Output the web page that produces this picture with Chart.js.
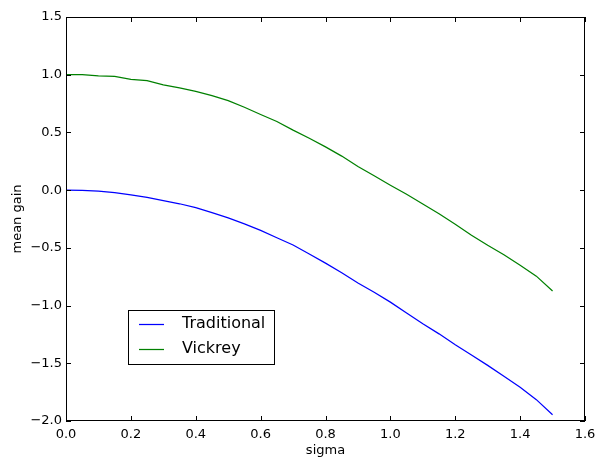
<!DOCTYPE html>
<html>
<head>
<meta charset="utf-8">
<script src="https://cdn.jsdelivr.net/npm/chart.js@4"></script>
<style>
  html, body { margin: 0; padding: 0; background: #fff; }
  #wrap { width: 598px; height: 458px; }
</style>
</head>
<body>
<div id="wrap"><canvas id="chart" width="598" height="458"></canvas></div>
<script>
// sigma values (x) and mean gain per mechanism
const sigma = [0.00, 0.05, 0.10, 0.15, 0.20, 0.25, 0.30, 0.35, 0.40, 0.45,
               0.50, 0.55, 0.60, 0.65, 0.70, 0.75, 0.80, 0.85, 0.90, 0.95,
               1.00, 1.05, 1.10, 1.15, 1.20, 1.25, 1.30, 1.35, 1.40, 1.45, 1.50];
const traditional = [0.000, -0.002, -0.009, -0.022, -0.040, -0.062, -0.090, -0.118, -0.152, -0.195,
                     -0.240, -0.292, -0.348, -0.412, -0.475, -0.553, -0.632, -0.715, -0.805, -0.885,
                     -0.970, -1.065, -1.158, -1.245, -1.340, -1.428, -1.518, -1.612, -1.708, -1.815, -1.946];
const vickrey = [1.000, 1.000, 0.990, 0.985, 0.960, 0.948, 0.912, 0.885, 0.855, 0.818,
                 0.775, 0.718, 0.655, 0.595, 0.520, 0.450, 0.375, 0.295, 0.205, 0.125,
                 0.043, -0.035, -0.120, -0.205, -0.295, -0.390, -0.478, -0.560, -0.650, -0.745, -0.874];
const xTicks = [0.0, 0.2, 0.4, 0.6, 0.8, 1.0, 1.2, 1.4, 1.6];
const yTicks = [-2.0, -1.5, -1.0, -0.5, 0.0, 0.5, 1.0, 1.5];

const fontFamily = '"DejaVu Sans", sans-serif';

function toPoints(ys) {
    return sigma.map((x, i) => ({ x: x, y: ys[i] }));
}

function fmt(v) {
    const s = Math.abs(v).toFixed(1);
    return v < -1e-9 ? '\u2212' + s : s;
}

// frame + inward ticks, matplotlib style
const framePlugin = {
    id: 'frame',
    afterDraw(chart) {
        const ctx = chart.ctx;
        const a = chart.chartArea;
        const xs = chart.scales.x, ys = chart.scales.y;
        const len = 5;
        ctx.save();
        ctx.strokeStyle = '#000';
        ctx.lineWidth = 1;
        ctx.strokeRect(a.left + 0.5, a.top + 0.5, a.right - a.left - 1, a.bottom - a.top - 1);
        ctx.beginPath();
        xTicks.forEach(t => {
            const px = Math.round(xs.getPixelForValue(t)) + 0.5;
            ctx.moveTo(px, a.bottom); ctx.lineTo(px, a.bottom - len);
            ctx.moveTo(px, a.top); ctx.lineTo(px, a.top + len);
        });
        yTicks.forEach(t => {
            const py = Math.round(ys.getPixelForValue(t)) + 0.5;
            ctx.moveTo(a.left, py); ctx.lineTo(a.left + len, py);
            ctx.moveTo(a.right, py); ctx.lineTo(a.right - len, py);
        });
        ctx.stroke();
        ctx.restore();
    }
};

// legend box inside the axes
const legendPlugin = {
    id: 'boxLegend',
    afterDraw(chart) {
        const ctx = chart.ctx;
        const bx = 128, by = 310, bw = 146, bh = 54;
        ctx.save();
        ctx.fillStyle = '#fff';
        ctx.fillRect(bx, by, bw, bh);
        ctx.strokeStyle = '#000';
        ctx.lineWidth = 1;
        ctx.strokeRect(bx + 0.5, by + 0.5, bw, bh);
        ctx.font = '16px ' + fontFamily;
        ctx.textBaseline = 'middle';
        chart.data.datasets.forEach((ds, i) => {
            const y = by + 14 + i * 25;
            ctx.strokeStyle = ds.borderColor;
            ctx.lineWidth = 1.25;
            ctx.beginPath();
            ctx.moveTo(139, y + 0.5);
            ctx.lineTo(164, y + 0.5);
            ctx.stroke();
            ctx.fillStyle = '#000';
            ctx.fillText(ds.label, 182, y);
        });
        ctx.restore();
    }
};

new Chart(document.getElementById('chart'), {
    type: 'line',
    data: {
        datasets: [
            { label: 'Traditional', data: toPoints(traditional), borderColor: '#0000ff', borderWidth: 1.25, pointRadius: 0, fill: false, tension: 0 },
            { label: 'Vickrey', data: toPoints(vickrey), borderColor: '#008000', borderWidth: 1.25, pointRadius: 0, fill: false, tension: 0 }
        ]
    },
    options: {
        responsive: false,
        animation: false,
        layout: { padding: { left: 0, right: 13, top: 17, bottom: 0 } },
        plugins: { legend: { display: false }, tooltip: { enabled: false } },
        scales: {
            x: {
                type: 'linear',
                min: 0, max: 1.6,
                afterBuildTicks: s => { s.ticks = xTicks.map(v => ({ value: v })); },
                afterFit: s => { s.height = 37; s.paddingLeft = 0; s.paddingRight = 0; },
                grid: { display: false, drawTicks: false },
                border: { display: false },
                ticks: { color: '#000', font: { family: fontFamily, size: 13 }, padding: 6, maxRotation: 0, callback: v => Number(v).toFixed(1) },
                title: { display: true, text: 'sigma', color: '#000', font: { family: fontFamily, size: 13 }, padding: { top: 0, bottom: 0 } }
            },
            y: {
                type: 'linear',
                min: -2, max: 1.5,
                afterBuildTicks: s => { s.ticks = yTicks.map(v => ({ value: v })); },
                afterFit: s => { s.width = 66; s.paddingTop = 0; s.paddingBottom = 0; },
                grid: { display: false, drawTicks: false },
                border: { display: false },
                ticks: { color: '#000', font: { family: fontFamily, size: 13 }, padding: 4, callback: v => fmt(v) },
                title: { display: true, text: 'mean gain', color: '#000', font: { family: fontFamily, size: 13 }, padding: { top: 10, bottom: 0 } }
            }
        }
    },
    plugins: [framePlugin, legendPlugin]
});
</script>
</body>
</html>
